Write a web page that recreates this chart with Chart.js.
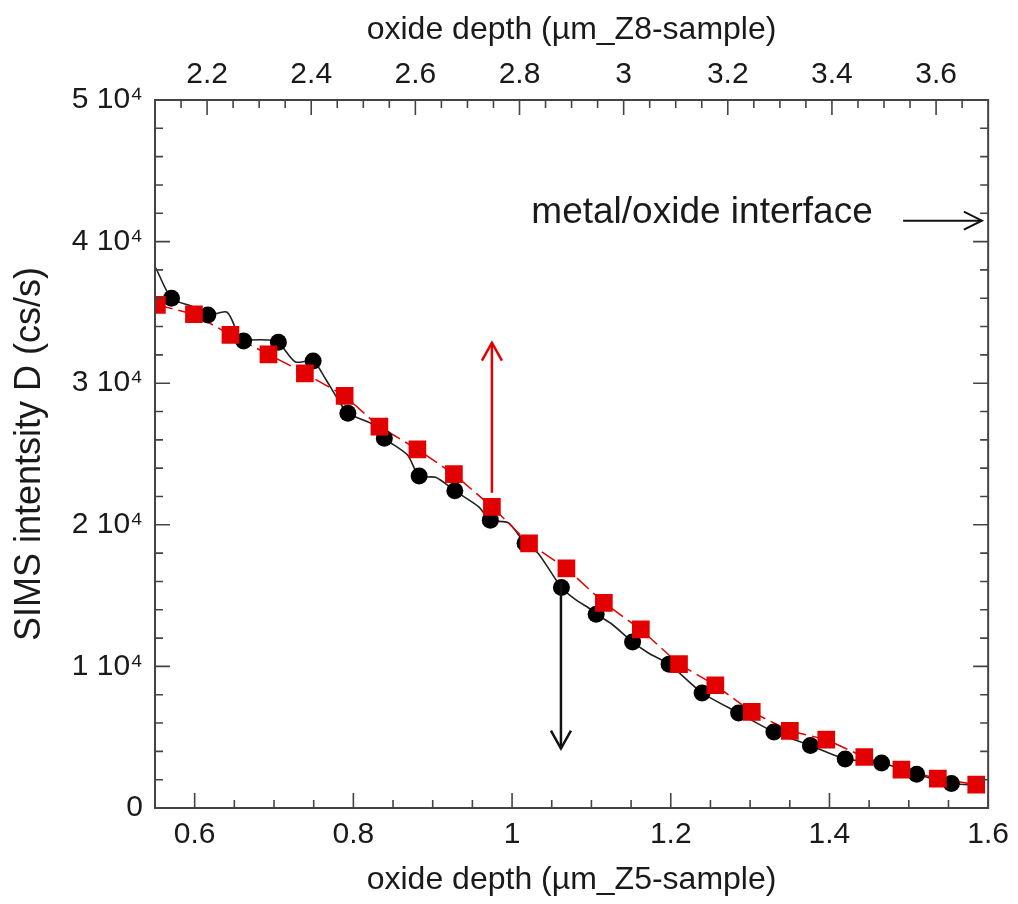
<!DOCTYPE html>
<html>
<head>
<meta charset="utf-8">
<script src="https://cdn.jsdelivr.net/npm/chart.js@4/dist/chart.umd.min.js"></script>
<style>
html,body{margin:0;padding:0;background:#fff;}
#wrap{width:1018px;height:904px;}
</style>
</head>
<body>
<div id="wrap"><canvas id="c" width="1018" height="904"></canvas></div>
<script>
// ---- data ----
const bottomTicks = [0.6, 0.8, 1.0, 1.2, 1.4, 1.6];
const topTicks = [2.2, 2.4, 2.6, 2.8, 3.0, 3.2, 3.4, 3.6];
const yTicks = [0, 10000, 20000, 30000, 40000, 50000];
const yTickLabels = ['0', '1 10\u2074', '2 10\u2074', '3 10\u2074', '4 10\u2074', '5 10\u2074'];

// black profile (Z5 sample) – continuous line
const blackLineX = [0.551, 0.5708, 0.5987, 0.6166, 0.6409, 0.6551, 0.6617, 0.6701, 0.6926, 0.7055, 0.727, 0.7493, 0.765, 0.779, 0.7931, 0.8222, 0.839, 0.8682, 0.8829, 0.9037, 0.9279, 0.958, 0.9726, 0.9955, 1.0164, 1.033, 1.0622, 1.081, 1.0977, 1.106, 1.1248, 1.1519, 1.1728, 1.1979, 1.2395, 1.2855, 1.33, 1.376, 1.4198, 1.4657, 1.5099, 1.5537, 1.575];
const blackLineY = [38150, 36000, 35390, 34820, 35010, 33390, 32980, 33050, 33050, 32890, 31500, 31570, 30300, 29000, 27870, 27160, 26110, 24930, 23440, 23350, 22400, 21270, 20330, 20140, 18690, 17980, 15580, 14680, 14090, 13690, 13030, 11730, 10910, 10160, 8127, 6714, 5371, 4410, 3463, 3180, 2382, 1724, 1650];
// black circle markers
const blackX = [0.5708, 0.6166, 0.6617, 0.7055, 0.7493, 0.7931, 0.839, 0.8829, 0.9279, 0.9726, 1.0164, 1.0622, 1.106, 1.1519, 1.1979, 1.2395, 1.2855, 1.33, 1.376, 1.4198, 1.4657, 1.5099, 1.5537];
const blackY = [36000, 34820, 32980, 32890, 31570, 27870, 26110, 23440, 22400, 20330, 18690, 15580, 13690, 11730, 10160, 8127, 6714, 5371, 4410, 3463, 3180, 2382, 1724];
// red squares (Z8 sample)
const redX = [0.5524, 0.5991, 0.6451, 0.693, 0.7389, 0.789, 0.8328, 0.8807, 0.9267, 0.9746, 1.0214, 1.0685, 1.1157, 1.1623, 1.2104, 1.2562, 1.3021, 1.3501, 1.396, 1.4439, 1.4907, 1.5366, 1.585];
const redY = [35530, 34870, 33410, 32040, 30700, 29100, 26930, 25330, 23580, 21270, 18690, 16920, 14490, 12610, 10160, 8671, 6784, 5442, 4834, 3604, 2714, 2078, 1654];

// annotations (data units)
const redArrow = {x: 0.9746, y0: 22260, y1: 32860};
const blackArrow = {x: 1.0616, y0: 15970, y1: 4200};
const interfaceArrow = {x0: 1.4928, x1: 1.5921, y: 41480};
const interfaceText = {x: 1.0243, y: 42030, text: 'metal/oxide interface'};

const FONT = "'Liberation Sans', Arial, sans-serif";
const TXT = '#1a1a1a';
const RED = '#e30000';

const pts = (xs, ys) => xs.map((x, i) => ({x: x, y: ys[i]}));

const framePlugin = {
  id: 'frame',
  afterDatasetsDraw(chart) {
    const {ctx, chartArea: a, scales} = chart;
    ctx.save();
    ctx.strokeStyle = '#444';
    ctx.lineWidth = 2;
    ctx.strokeRect(a.left, a.top, a.right - a.left, a.bottom - a.top);
    ctx.lineWidth = 1.6;
    ctx.beginPath();
    const sx = scales.x;
    for (let i = 11; i <= 32; i++) {
      const p = sx.getPixelForValue(i * 0.05);
      const len = i % 4 === 0 ? 15 : 8;
      ctx.moveTo(p, a.bottom); ctx.lineTo(p, a.bottom - len);
    }
    const st = scales.x2;
    for (let i = 43; i <= 73; i++) {
      const p = st.getPixelForValue(i * 0.05);
      const len = i % 4 === 0 ? 15 : 8;
      ctx.moveTo(p, a.top); ctx.lineTo(p, a.top + len);
    }
    const sy = scales.y;
    for (let i = 0; i <= 25; i++) {
      const p = sy.getPixelForValue(i * 2000);
      const len = i % 5 === 0 ? 15 : 8;
      ctx.moveTo(a.left, p); ctx.lineTo(a.left + len, p);
      ctx.moveTo(a.right, p); ctx.lineTo(a.right - len, p);
    }
    ctx.stroke();

    const arrow = (x0, y0, x1, y1, color, w, hl, hw) => {
      ctx.strokeStyle = color; ctx.lineWidth = w;
      ctx.beginPath(); ctx.moveTo(x0, y0); ctx.lineTo(x1, y1); ctx.stroke();
      const ang = Math.atan2(y1 - y0, x1 - x0);
      const bx = x1 - hl * Math.cos(ang), by = y1 - hl * Math.sin(ang);
      const nx = -Math.sin(ang) * hw, ny = Math.cos(ang) * hw;
      ctx.beginPath();
      ctx.moveTo(bx + nx, by + ny); ctx.lineTo(x1, y1); ctx.lineTo(bx - nx, by - ny);
      ctx.stroke();
    };
    arrow(sx.getPixelForValue(redArrow.x), sy.getPixelForValue(redArrow.y0),
          sx.getPixelForValue(redArrow.x), sy.getPixelForValue(redArrow.y1), RED, 2.5, 18, 10);
    arrow(sx.getPixelForValue(blackArrow.x), sy.getPixelForValue(blackArrow.y0),
          sx.getPixelForValue(blackArrow.x), sy.getPixelForValue(blackArrow.y1), '#111', 2.5, 18, 10);
    arrow(sx.getPixelForValue(interfaceArrow.x0), sy.getPixelForValue(interfaceArrow.y),
          sx.getPixelForValue(interfaceArrow.x1), sy.getPixelForValue(interfaceArrow.y), '#111', 2, 18, 9);

    ctx.fillStyle = TXT;
    ctx.font = '37px ' + FONT;
    ctx.textAlign = 'left';
    ctx.textBaseline = 'middle';
    ctx.fillText(interfaceText.text, sx.getPixelForValue(interfaceText.x), sy.getPixelForValue(interfaceText.y));
    ctx.restore();
  }
};

const fmt = v => String(+Number(v).toFixed(2));

new Chart(document.getElementById('c'), {
  type: 'line',
  data: {
    datasets: [
      {
        label: 'Z8 squares', data: pts(redX, redY), showLine: false,
        pointStyle: 'rect', pointRadius: 12.5, pointBackgroundColor: RED, pointBorderColor: RED,
        pointBorderWidth: 0, order: 0
      },
      {
        label: 'Z5 circles', data: pts(blackX, blackY), showLine: false,
        pointStyle: 'circle', pointRadius: 8.5, pointBackgroundColor: '#000', pointBorderColor: '#000',
        pointBorderWidth: 0, order: 1
      },
      {
        label: 'Z8 line', data: pts(redX, redY), borderColor: RED, borderWidth: 1.5,
        borderDash: [16, 6], pointRadius: 0, tension: 0, fill: false, order: 2
      },
      {
        label: 'Z5 line', data: pts(blackLineX, blackLineY), borderColor: '#222', borderWidth: 1.6,
        pointRadius: 0, tension: 0.25, fill: false, order: 3
      }
    ]
  },
  options: {
    responsive: false,
    animation: false,
    events: [],
    layout: {padding: {left: 0, right: 26, top: 0, bottom: 0}},
    plugins: {legend: {display: false}, tooltip: {enabled: false}},
    scales: {
      x: {
        type: 'linear', position: 'bottom', min: 0.55, max: 1.6,
        afterBuildTicks: s => { s.ticks = bottomTicks.map(v => ({value: v})); },
        afterFit: s => { s.height = 96; },
        ticks: {font: {size: 30, family: FONT}, color: TXT, padding: 9, maxRotation: 0, autoSkip: false, callback: fmt},
        grid: {display: false, drawTicks: false},
        border: {display: false},
        title: {display: true, text: 'oxide depth (\u00b5m_Z5-sample)', font: {size: 32, family: FONT}, color: TXT, padding: {top: 0, bottom: 5}}
      },
      x2: {
        type: 'linear', position: 'top', min: 2.1, max: 3.7,
        afterBuildTicks: s => { s.ticks = topTicks.map(v => ({value: v})); },
        afterFit: s => { s.height = 100; },
        ticks: {font: {size: 30, family: FONT}, color: TXT, padding: 7, maxRotation: 0, autoSkip: false, callback: fmt},
        grid: {display: false, drawTicks: false},
        border: {display: false},
        title: {display: true, text: 'oxide depth (\u00b5m_Z8-sample)', font: {size: 32, family: FONT}, color: TXT, padding: {top: 11, bottom: 0}}
      },
      y: {
        type: 'linear', position: 'left', min: 0, max: 50000,
        afterBuildTicks: s => { s.ticks = yTicks.map(v => ({value: v})); },
        afterFit: s => { s.width = 155; },
        ticks: {font: {size: 30, family: FONT}, color: TXT, padding: 12, autoSkip: false,
                callback: v => yTickLabels[yTicks.indexOf(v)]},
        grid: {display: false, drawTicks: false},
        border: {display: false},
        title: {display: true, text: 'SIMS intentsity D (cs/s)', font: {size: 36, family: FONT}, color: TXT, padding: {top: 8, bottom: 0}}
      }
    }
  },
  plugins: [framePlugin]
});
</script>
</body>
</html>
